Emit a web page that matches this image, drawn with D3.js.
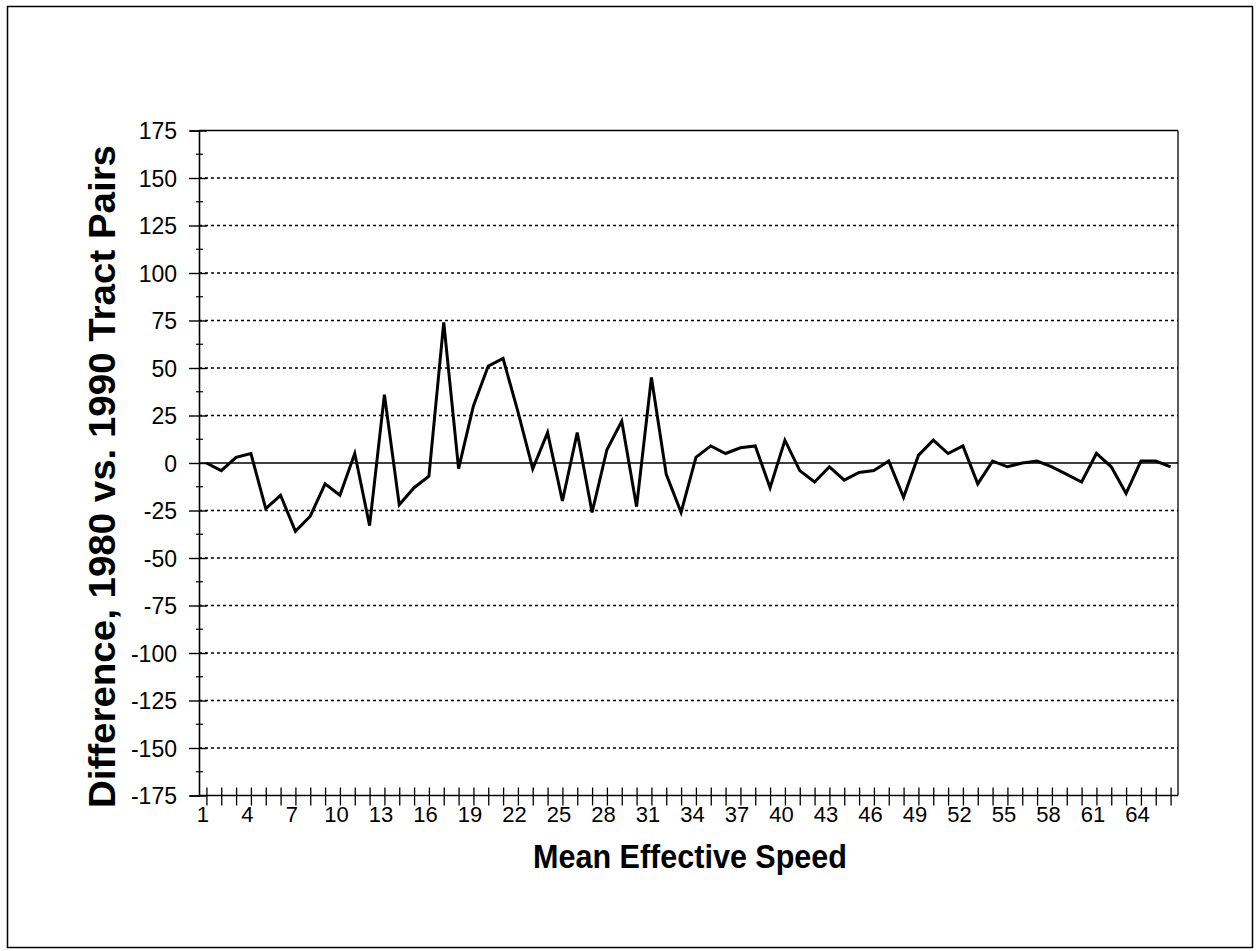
<!DOCTYPE html>
<html>
<head>
<meta charset="utf-8">
<script src="https://cdn.jsdelivr.net/npm/d3@7"></script>
<style>
  html, body { margin: 0; padding: 0; background: #fff; }
  svg { display: block; }
  text { font-family: Arial, "Liberation Sans", sans-serif; fill: #000; }
</style>
</head>
<body>
<svg id="chart" width="1257" height="951"></svg>
<script>
// ---- data ----
const categories = d3.range(1, 67);
const differences = [
  0, -4, 3, 5, -24, -17, -36, -28, -11, -17,
  5, -33, 36, -22, -13, -7, 74, -3, 30, 51,
  55, 27, -3, 16, -20, 16, -26, 7, 22, -23,
  45, -6, -26, 3, 9, 5, 8, 9, -13, 12,
  -4, -10, -2, -9, -5, -4, 1, -18, 4, 12,
  5, 9, -11, 1, -2, 0, 1, -2, -6, -10,
  5, -2, -16, 1, 1, -2
];
const yTickValues = [-175, -150, -125, -100, -75, -50, -25, 0, 25, 50, 75, 100, 125, 150, 175];
const yMinorValues = d3.range(-162.5, 175, 25);
const xLabelValues = d3.range(1, 67, 3);
const xTitle = "Mean Effective Speed";
const yTitle = "Difference, 1980 vs. 1990 Tract Pairs";

// ---- layout ----
const svg = d3.select("#chart");
const plotLeft = 199, plotRight = 1178, plotTop = 130.5, plotBottom = 795.5;
const FONT = "Arial, 'Liberation Sans', sans-serif";

// outer frame
svg.append("rect").attr("x", 7.5).attr("y", 6.5).attr("width", 1245).attr("height", 941)
  .attr("fill", "none").attr("stroke", "#000").attr("stroke-width", 1.5);

const x = d3.scalePoint().domain(categories).range([plotLeft, plotRight]).padding(0.5);
const y = d3.scaleLinear().domain([-175, 175]).range([plotBottom, plotTop]);

// gridlines (dotted)
svg.append("g").selectAll("line")
  .data(yTickValues.filter(v => v !== 0 && v !== 175 && v !== -175))
  .join("line")
  .attr("x1", plotLeft).attr("x2", plotRight)
  .attr("y1", d => y(d)).attr("y2", d => y(d))
  .attr("stroke", "#000").attr("stroke-width", 1.3)
  .attr("stroke-dasharray", "3,3");

// top and right border of plot
svg.append("line").attr("x1", plotLeft).attr("x2", plotRight).attr("y1", y(175)).attr("y2", y(175))
  .attr("stroke", "#000").attr("stroke-width", 1.3);
svg.append("line").attr("x1", plotRight).attr("x2", plotRight).attr("y1", y(175)).attr("y2", y(-175))
  .attr("stroke", "#000").attr("stroke-width", 1.3);

// zero line
svg.append("line").attr("x1", plotLeft).attr("x2", plotRight).attr("y1", y(0)).attr("y2", y(0))
  .attr("stroke", "#000").attr("stroke-width", 1.7);

// y axis
const yAxis = d3.axisLeft(y).tickValues(yTickValues).tickSize(9).tickFormat(d => String(d));
const gy = svg.append("g").attr("transform", `translate(${plotLeft},0)`).call(yAxis);
gy.select(".domain").attr("stroke-width", 1.6);
gy.selectAll(".tick line").attr("x2", -10).attr("x1", 8).attr("stroke-width", 1.4);
gy.selectAll(".tick text").attr("font-size", 23).attr("x", -22).attr("dy", "0.36em")
  .attr("font-family", FONT);
svg.append("g").selectAll("line").data(yMinorValues).join("line")
  .attr("x1", plotLeft - 3).attr("x2", plotLeft + 4)
  .attr("y1", d => y(d)).attr("y2", d => y(d))
  .attr("stroke", "#000").attr("stroke-width", 1.2);

// x axis
const xAxis = d3.axisBottom(x).tickValues(categories)
  .tickFormat(d => xLabelValues.includes(d) ? String(d) : "").tickSize(10);
const gx = svg.append("g").attr("transform", `translate(0,${plotBottom})`).call(xAxis);
gx.select(".domain").attr("d", `M${plotLeft},0H${plotRight}`).attr("stroke-width", 1.6);
gx.selectAll(".tick line").attr("y1", -8).attr("y2", 10).attr("stroke-width", 1.3);
gx.selectAll(".tick text").attr("font-size", 22).attr("dx", -4).attr("y", 26).attr("dy", 0)
  .attr("font-family", FONT);

// line
svg.append("path")
  .datum(categories.map((c, i) => [c, differences[i]]))
  .attr("fill", "none").attr("stroke", "#000").attr("stroke-width", 3)
  .attr("stroke-linejoin", "miter")
  .attr("d", d3.line().x(d => x(d[0])).y(d => y(d[1])));

// titles
svg.append("text").attr("x", 690).attr("y", 868).attr("text-anchor", "middle")
  .attr("font-size", 33).attr("font-weight", "bold")
  .attr("textLength", 314).attr("lengthAdjust", "spacingAndGlyphs").text(xTitle);
svg.append("text").attr("transform", "translate(115,476.5) rotate(-90)")
  .attr("text-anchor", "middle").attr("font-size", 37).attr("font-weight", "bold")
  .attr("textLength", 663).attr("lengthAdjust", "spacingAndGlyphs").text(yTitle);
</script>
</body>
</html>
